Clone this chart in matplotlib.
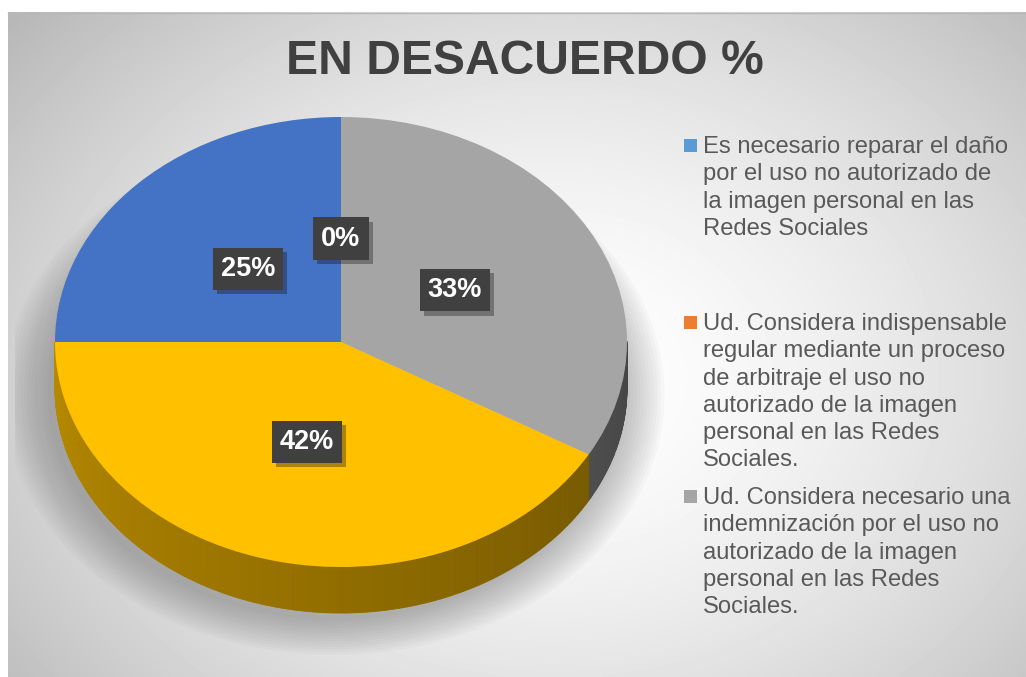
import numpy as np
import matplotlib
matplotlib.use("Agg")
from matplotlib import pyplot as plt
from matplotlib.patches import Rectangle, Ellipse
from matplotlib.collections import PolyCollection
import matplotlib.patheffects as pe

plt.rcParams['font.family'] = ['Liberation Sans', 'DejaVu Sans']

# data (respuestas "en desacuerdo")
values = [3, 0, 4, 5]
colors = ['#4472C4', '#ED7D31', '#A5A5A5', '#FFC000']
legend_colors = ['#5B9BD5', '#ED7D31', '#A5A5A5']
legend_labels = [
    "Es necesario reparar el daño\npor el uso no autorizado de\nla imagen personal en las\nRedes Sociales",
    "Ud. Considera indispensable\nregular mediante un proceso\nde arbitraje el uso no\nautorizado de la imagen\npersonal en las Redes\nSociales.",
    "Ud. Considera necesario una\nindemnización por el uso no\nautorizado de la imagen\npersonal en las Redes\nSociales.",
]
title = "EN DESACUERDO %"

W, H = 1026, 677
fig = plt.figure(figsize=(W / 100, H / 100), dpi=100)

# background panel with radial gradient
bg = fig.add_axes([0, 0, 1, 1])
bg.set_xlim(0, W)
bg.set_ylim(H, 0)
bg.axis('off')
yy, xx = np.mgrid[0:200, 0:300]
r = np.sqrt(((xx - 160) / 190.0) ** 2 + ((yy - 110) / 150.0) ** 2)
grad = 1.0 - 0.24 * np.clip(r, 0, 1.3) ** 1.6
bg.imshow(grad, cmap='gray', vmin=0, vmax=1, extent=(8, W, H, 12), aspect='auto',
          interpolation='bilinear')
bg.plot([8, W], [12.5, 12.5], color='#b8b8b8', lw=1)

# pie geometry (pixels)
cx, cy, rx, ry = 341, 342, 286, 225
d = 46 / ry
x0, x1, y0, y1 = 15, 665, 100, 660
ax = fig.add_axes([x0 / W, 1 - y1 / H, (x1 - x0) / W, (y1 - y0) / H])

wedges, texts, autotexts = ax.pie(
    values, colors=colors, startangle=180, counterclock=False, radius=1,
    wedgeprops=dict(linewidth=0), autopct=lambda p: '%.0f%%' % p,
    pctdistance=0.46, textprops=dict(color='white', fontsize=19.5, fontweight='bold'))
for w in wedges:
    w.set_zorder(5)

# side walls of the 3D pie
polys, fcs = [], []
for w, c in zip(wedges, colors):
    t1, t2 = sorted([w.theta1, w.theta2])
    if t2 - t1 <= 0:
        continue
    ts = np.linspace(t1, t2, max(2, int((t2 - t1) * 2)))
    base = np.array(matplotlib.colors.to_rgb(c))
    for a, b in zip(ts[:-1], ts[1:]):
        m = ((a + b) / 2) % 360
        if m <= 180:
            continue
        ra, rb = np.radians(a), np.radians(b)
        pts = [(np.cos(ra), np.sin(ra)), (np.cos(rb), np.sin(rb)),
               (np.cos(rb), np.sin(rb) - d), (np.cos(ra), np.sin(ra) - d)]
        f = 0.72 - 0.30 * (m - 180) / 180
        polys.append(pts)
        fcs.append(np.clip(base * f, 0, 1))
ax.add_collection(PolyCollection(polys, facecolors=fcs, edgecolors=fcs, linewidths=0.6, zorder=3))

# soft shadow under the pie
for k in range(14):
    s = 1.0 + 0.012 * k
    ax.add_patch(Ellipse((-0.025, -d - 0.03), 2 * s, 2 * s, color='#606060',
                         alpha=0.035, lw=0, zorder=1))

ax.set_aspect('auto')
ax.set_xlim((x0 - cx) / rx, (x1 - cx) / rx)
ax.set_ylim((cy - y1) / ry, (cy - y0) / ry)
ax.axis('off')

for t in autotexts:
    t.set_zorder(10)
    t.set_bbox(dict(boxstyle='square,pad=0.3', fc='#404040', ec='none'))
    t.get_bbox_patch().set_path_effects([pe.SimplePatchShadow(offset=(3, -3), alpha=0.35), pe.Normal()])

# title
fig.text(525 / W, 1 - 61 / H, title, ha='center', va='center', fontsize=34.6,
         fontweight='bold', color='#404040')

# legend
slot_y = [145, 322, 496]
for lab, c, ty in zip(legend_labels, legend_colors, slot_y):
    bg.add_patch(Rectangle((684, ty - 6.5), 13, 13, color=c, lw=0))
    bg.text(703, ty - 9, lab, ha='left', va='top', fontsize=17.1, color='#595959',
            linespacing=1.31)

fig.savefig('out.png', dpi=100)
